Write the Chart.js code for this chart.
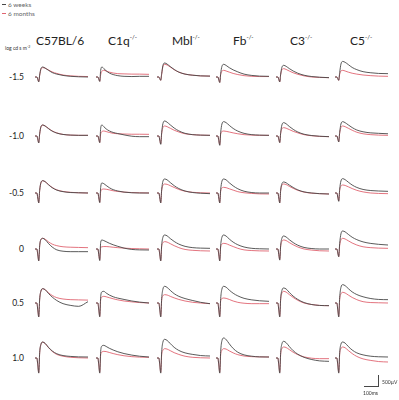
<!DOCTYPE html>
<html>
<head>
<meta charset="utf-8">
<script src="https://cdn.jsdelivr.net/npm/chart.js@4/dist/chart.umd.min.js"></script>
<style>
  html, body { margin: 0; padding: 0; background: #fff; }
  #page { position: relative; width: 399px; height: 400px; overflow: hidden; font-family: "Lato", "Open Sans", sans-serif; color: #222; }
  .abs { position: absolute; white-space: nowrap; }
  .hdr { font-size: 12px; line-height: 12px; }
  .hdr sup { font-size: 6px; vertical-align: 6px; line-height: 0; }
  .row { font-size: 8.5px; line-height: 8px; text-align: right; width: 24px; }
  .tiny { font-size: 5px; line-height: 5px; color: #333; }
  .leg { font-size: 6.5px; line-height: 7px; color: #666; }
  .swatch { position: absolute; height: 1px; width: 4px; }
  .panel { position: absolute; }
</style>
</head>
<body>
<div id="page"></div>
<script>
"use strict";

// column headers (mouse strains) and row labels (flash intensity)
var strains = ["C57BL/6", "C1q", "Mbl", "Fb", "C3", "C5"];
var knockout = [false, true, true, true, true, true];
var intensities = ["-1.5", "-1.0", "-0.5", "0", "0.5", "1.0"];
var seriesNames = ["6 weeks", "6 months"];

// sample times of every trace, ms after start of the sweep
var timeMs = [0, 12, 18, 24, 30, 38, 50, 65, 85, 110, 140, 180, 230, 280, 340];

// amplitudes in µV, one trace per strain (same order as strains)
var weeks6_m15 = [
  [0, 0, -110, -220, 90, 380, 450, 400, 310, 200, 130, 70, 30, 10, 0],
  [0, 0, -100, -200, 300, 450, 380, 280, 180, 110, 60, 30, 20, 30, 30],
  [0, 0, -80, -150, 150, 520, 630, 580, 470, 340, 220, 130, 80, 50, 40],
  [0, 0, -130, -250, 150, 480, 570, 520, 420, 320, 230, 130, 70, 40, 30],
  [0, 0, -110, -220, 130, 440, 525, 480, 380, 270, 170, 80, 20, -10, -30],
  [0, 0, -80, -150, 200, 580, 700, 660, 560, 430, 330, 240, 190, 160, 150]
];
var months6_m15 = [
  [0, 0, -100, -210, 80, 340, 420, 400, 320, 230, 160, 90, 50, 30, 20],
  [0, 0, -90, -190, 100, 260, 300, 270, 220, 180, 150, 140, 130, 130, 120],
  [0, 0, -80, -150, 130, 470, 570, 540, 450, 330, 220, 130, 80, 50, 40],
  [0, 0, -120, -240, 110, 260, 300, 270, 220, 160, 110, 60, 30, 20, 20],
  [0, 0, -110, -220, 110, 330, 375, 340, 270, 190, 120, 50, 0, -20, -30],
  [0, 0, -80, -150, 120, 270, 300, 270, 220, 170, 130, 90, 60, 40, 30]
];
var weeks6_m10 = [
  [0, 0, -160, -315, 100, 420, 495, 450, 340, 220, 130, 70, 40, 30, 30],
  [0, 0, -150, -300, 350, 495, 420, 320, 230, 160, 110, 50, -10, -30, -30],
  [0, 0, -190, -375, 150, 560, 675, 620, 500, 360, 230, 120, 60, 40, 30],
  [0, 0, -210, -420, 150, 540, 645, 600, 480, 340, 220, 120, 60, 40, 30],
  [0, 0, -150, -300, 150, 500, 600, 550, 430, 300, 180, 80, 20, -10, -30],
  [0, 0, -130, -270, 160, 540, 645, 600, 500, 380, 270, 190, 140, 120, 100]
];
var months6_m10 = [
  [0, 0, -150, -300, 90, 400, 490, 450, 350, 230, 140, 70, 40, 30, 30],
  [0, 0, -140, -290, 90, 200, 225, 200, 160, 120, 100, 90, 80, 80, 75],
  [0, 0, -180, -360, 120, 380, 450, 420, 350, 260, 180, 100, 60, 40, 30],
  [0, 0, -200, -400, 90, 200, 225, 210, 180, 140, 100, 60, 40, 30, 30],
  [0, 0, -140, -290, 120, 330, 375, 350, 290, 210, 140, 60, 10, -20, -30],
  [0, 0, -130, -260, 130, 380, 450, 420, 350, 260, 170, 100, 60, 40, 30]
];
var weeks6_m05 = [
  [0, 0, -230, -450, 120, 470, 555, 510, 380, 240, 130, 60, 20, 10, 0],
  [0, 0, -220, -430, 250, 450, 420, 340, 240, 150, 90, 40, 10, 0, 0],
  [0, 0, -230, -450, 150, 530, 630, 590, 470, 330, 200, 90, 20, -10, -30],
  [0, 0, -230, -450, 150, 530, 630, 590, 460, 320, 190, 80, 20, 0, 0],
  [0, 0, -230, -450, 130, 420, 495, 460, 360, 250, 140, 50, 0, -30, -45],
  [0, 0, -190, -375, 170, 540, 645, 600, 490, 360, 250, 160, 110, 90, 75]
];
var months6_m05 = [
  [0, 0, -220, -440, 110, 450, 550, 510, 390, 250, 140, 70, 30, 10, 0],
  [0, 0, -210, -420, 60, 160, 180, 170, 140, 100, 70, 40, 20, 10, 0],
  [0, 0, -220, -440, 120, 340, 405, 390, 330, 250, 160, 80, 30, 10, 0],
  [0, 0, -220, -440, 90, 220, 255, 240, 190, 130, 60, 10, -20, -40, -45],
  [0, 0, -220, -440, 120, 350, 405, 380, 300, 210, 120, 40, -10, -30, -45],
  [0, 0, -180, -360, 120, 310, 360, 340, 280, 200, 120, 50, 0, -20, -30]
];
var weeks6_0 = [
  [0, 0, -270, -540, 150, 430, 480, 420, 260, 90, -40, -100, -120, -120, -120],
  [0, 0, -260, -520, 300, 405, 380, 330, 260, 190, 120, 40, -20, -40, -45],
  [0, 0, -270, -540, 170, 530, 630, 590, 470, 340, 220, 120, 60, 40, 30],
  [0, 0, -270, -540, 170, 530, 630, 580, 450, 310, 190, 90, 30, 10, 0],
  [0, 0, -250, -500, 160, 490, 585, 540, 420, 290, 170, 70, 20, 0, 0],
  [0, 0, -175, -350, 250, 680, 810, 770, 660, 530, 420, 320, 250, 210, 180]
];
var months6_0 = [
  [0, 0, -260, -520, 140, 420, 480, 440, 330, 220, 150, 100, 80, 70, 60],
  [0, 0, -250, -500, 60, 100, 110, 110, 100, 80, 60, 40, 20, 10, 0],
  [0, 0, -260, -520, 110, 280, 330, 310, 240, 150, 60, -20, -60, -80, -90],
  [0, 0, -260, -520, 90, 220, 255, 240, 180, 110, 30, -40, -70, -85, -90],
  [0, 0, -240, -480, 130, 350, 405, 380, 290, 190, 90, 0, -50, -80, -90],
  [0, 0, -170, -340, 160, 410, 480, 450, 370, 270, 180, 100, 60, 40, 30]
];
var weeks6_p05 = [
  [0, 0, -320, -630, 180, 540, 645, 600, 440, 270, 110, -30, -110, -150, 60],
  [0, 0, -310, -620, 280, 500, 525, 450, 360, 280, 220, 160, 90, 40, 0],
  [0, 0, -320, -630, 200, 630, 750, 700, 570, 420, 300, 200, 110, 30, -30],
  [0, 0, -320, -630, 200, 630, 750, 710, 580, 440, 320, 210, 140, 100, 75],
  [0, 0, -320, -630, 200, 570, 675, 630, 480, 310, 160, 20, -70, -110, -120],
  [0, 0, -320, -630, 250, 700, 825, 780, 650, 500, 380, 280, 200, 160, 150]
];
var months6_p05 = [
  [0, 0, -310, -620, 170, 530, 640, 600, 470, 340, 240, 180, 150, 140, 130],
  [0, 0, -300, -600, 150, 270, 300, 280, 240, 190, 140, 90, 50, 20, 0],
  [0, 0, -300, -600, 130, 320, 375, 360, 300, 230, 160, 90, 30, 0, -30],
  [0, 0, -300, -600, 100, 200, 225, 210, 160, 90, 30, -10, -30, -30, -30],
  [0, 0, -300, -600, 170, 450, 525, 490, 380, 250, 120, 0, -70, -110, -120],
  [0, 0, -300, -600, 160, 410, 480, 450, 360, 250, 150, 60, 20, 10, 0]
];
var weeks6_p10 = [
  [0, 0, -340, -680, 240, 620, 720, 660, 490, 320, 190, 110, 70, 50, 45],
  [0, 0, -340, -680, 300, 540, 570, 520, 440, 360, 280, 200, 130, 80, 45],
  [0, 0, -340, -680, 280, 720, 840, 790, 650, 480, 340, 230, 160, 110, 90],
  [0, 0, -340, -680, 300, 780, 900, 830, 640, 430, 260, 140, 80, 50, 45],
  [0, 0, -340, -680, 250, 640, 750, 690, 520, 330, 170, 30, -70, -130, -150],
  [0, 0, -340, -680, 240, 620, 720, 670, 520, 360, 230, 140, 80, 55, 45]
];
var months6_p10 = [
  [0, 0, -330, -660, 230, 600, 710, 650, 480, 300, 160, 80, 30, 10, 0],
  [0, 0, -320, -650, 150, 270, 300, 290, 250, 200, 150, 100, 60, 40, 30],
  [0, 0, -320, -650, 150, 350, 420, 400, 330, 240, 160, 80, 30, 10, 0],
  [0, 0, -320, -650, 150, 350, 420, 400, 320, 230, 150, 90, 60, 50, 45],
  [0, 0, -320, -650, 180, 420, 495, 470, 380, 260, 150, 50, -10, -30, -30],
  [0, 0, -320, -650, 180, 420, 495, 460, 340, 200, 70, -40, -110, -160, -180]
];

var weeksRows = [weeks6_m15, weeks6_m10, weeks6_m05, weeks6_0, weeks6_p05, weeks6_p10];
var monthsRows = [months6_m15, months6_m10, months6_m05, months6_0, months6_p05, months6_p10];

var blackLine = "#474747";
var redLine = "#e06470";

var page = document.getElementById("page");

function addText(html, cls, left, top) {
  var d = document.createElement("div");
  d.className = "abs " + cls;
  d.innerHTML = html;
  d.style.left = left + "px";
  d.style.top = top + "px";
  page.appendChild(d);
  return d;
}

function addBox(left, top, w, h, color) {
  var d = document.createElement("div");
  d.className = "swatch";
  d.style.left = left + "px";
  d.style.top = top + "px";
  d.style.width = w + "px";
  d.style.height = h + "px";
  d.style.background = color;
  page.appendChild(d);
}

// legend
addBox(2, 4, 4, 1, blackLine);
addText(seriesNames[0], "leg", 8, 1);
addBox(2, 13, 4, 1, redLine);
addText(seriesNames[1], "leg", 8, 10);

// headers
var headerLeft = [36, 108, 172, 233, 290, 350];
strains.forEach(function(name, i) {
  addText(name + (knockout[i] ? "<sup>-/-</sup>" : ""), "hdr", headerLeft[i], 35);
});
addText("log cd s m<sup style='font-size:3.5px;vertical-align:2px'>-2</sup>", "tiny", 5, 45);

// panel layout
var panelW = 53, panelH = 42, baseFromTop = 22;
var colLeft = [35, 96, 157, 216, 276, 335];
var rowBase = [77, 136, 193, 249, 303, 358];

intensities.forEach(function(label, r) {
  addText(label, "row", 0, rowBase[r] - 4);
});

function makePanel(r, c) {
  var holder = document.createElement("div");
  holder.className = "panel";
  holder.style.left = colLeft[c] + "px";
  holder.style.top = (rowBase[r] - baseFromTop) + "px";
  var cv = document.createElement("canvas");
  cv.width = panelW;
  cv.height = panelH;
  holder.appendChild(cv);
  page.appendChild(holder);

  function pts(arr) {
    return timeMs.map(function(t, k) { return { x: t, y: arr[k] }; });
  }

  new Chart(cv, {
    type: "line",
    data: {
      datasets: [{
        label: seriesNames[0],
        data: pts(weeksRows[r][c]),
        borderColor: blackLine,
        borderWidth: 0.9,
        pointRadius: 0,
        cubicInterpolationMode: "monotone"
      }, {
        label: seriesNames[1],
        data: pts(monthsRows[r][c]),
        borderColor: redLine,
        borderWidth: 0.9,
        pointRadius: 0,
        cubicInterpolationMode: "monotone"
      }]
    },
    options: {
      responsive: false,
      animation: false,
      devicePixelRatio: 1,
      layout: { padding: 0 },
      plugins: { legend: { display: false }, tooltip: { enabled: false } },
      scales: {
        x: { type: "linear", min: 0, max: 340, display: false },
        y: { min: -900, max: 990, display: false }
      }
    }
  });
}

for (var r = 0; r < intensities.length; r++) {
  for (var c = 0; c < strains.length; c++) {
    makePanel(r, c);
  }
}

// scale bar: 500 µV vertical, 100 ms horizontal
addBox(378, 375, 1, 12, blackLine);
addBox(364, 386, 15, 1, blackLine);
addText("500µV", "tiny", 382, 380);
addText("100ms", "tiny", 363, 391);
</script>
</body>
</html>
